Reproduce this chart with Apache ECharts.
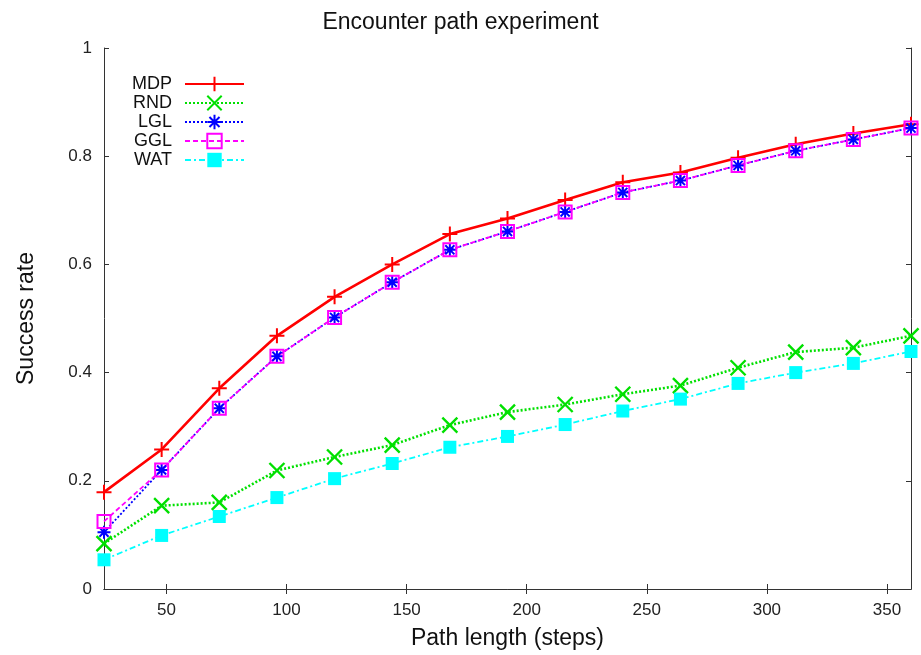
<!DOCTYPE html>
<html>
<head>
<meta charset="utf-8">
<script src="https://cdn.jsdelivr.net/npm/echarts@6/dist/echarts.min.js"></script>
<style>
html,body{margin:0;padding:0;background:#fff;}
#chart{width:921px;height:655px;}
</style>
</head>
<body>
<div id="chart"></div>
<script>
const pathLength = [24, 48, 72, 96, 120, 144, 168, 192, 216, 240, 264, 288, 312, 336, 360];
const MDP = [0.179, 0.258, 0.371, 0.468, 0.540, 0.600, 0.656, 0.685, 0.719, 0.752, 0.770, 0.797, 0.822, 0.842, 0.859];
const RND = [0.084, 0.154, 0.160, 0.219, 0.244, 0.266, 0.303, 0.327, 0.341, 0.360, 0.376, 0.409, 0.438, 0.446, 0.468];
const LGL = [0.105, 0.220, 0.334, 0.430, 0.502, 0.567, 0.627, 0.661, 0.697, 0.733, 0.755, 0.783, 0.810, 0.831, 0.852];
const GGL = [0.125, 0.220, 0.334, 0.430, 0.502, 0.567, 0.627, 0.661, 0.697, 0.733, 0.755, 0.783, 0.810, 0.831, 0.852];
const WAT = [0.054, 0.099, 0.134, 0.169, 0.204, 0.232, 0.262, 0.282, 0.304, 0.329, 0.351, 0.380, 0.400, 0.417, 0.439];
const xTicks = [50, 100, 150, 200, 250, 300, 350];

const pts = arr => arr.map((v, i) => [pathLength[i], v]);
const FONT = 'Liberation Sans';

const PLUS = 'path://M0,5L10,5M5,0L5,10';
const CROSS = 'path://M0,0L10,10M10,0L0,10';
const STAR = 'path://M0,5L10,5M5,0L5,10M1.5,1.5L8.5,8.5M8.5,1.5L1.5,8.5';

function mk(name, data, color, lineType, lineWidth, symbol, symbolSize, itemStyle) {
  return {
    name, type: 'line', data: pts(data),
    xAxisIndex: 0, yAxisIndex: 0,
    symbol, symbolSize, symbolKeepAspect: true,
    lineStyle: {color, width: lineWidth, type: lineType},
    itemStyle,
    color,
    animation: false
  };
}

const chart = echarts.init(document.getElementById('chart'), null, {renderer: 'canvas'});
const axisLine = {show: true, lineStyle: {color: '#333', width: 1}};
chart.setOption({
  backgroundColor: '#fff',
  animation: false,
  title: {
    text: 'Encounter path experiment',
    left: 'center', top: 6,
    textStyle: {fontFamily: FONT, fontSize: 23, fontWeight: 'normal', color: '#111'}
  },
  legend: {
    orient: 'vertical', left: 127, top: 70,
    align: 'right', itemWidth: 59, itemHeight: 18, itemGap: 1,
    textStyle: {fontFamily: FONT, fontSize: 18, lineHeight: 18, color: '#111', padding: [0, 8, 0, 0]},
    data: ['MDP', 'RND', 'LGL', 'GGL', 'WAT']
  },
  grid: {left: 104, right: 10, top: 48, bottom: 61, containLabel: false},
  xAxis: [{
    type: 'value', min: 24, max: 360,
    name: 'Path length (steps)', nameLocation: 'middle', nameGap: 38,
    nameTextStyle: {fontFamily: FONT, fontSize: 23, color: '#111'},
    axisLine,
    axisTick: {show: true, inside: true, length: 5, customValues: xTicks, lineStyle: {color: '#333'}},
    axisLabel: {customValues: xTicks, fontFamily: FONT, fontSize: 17, color: '#222', margin: 13},
    splitLine: {show: false}
  }, {
    type: 'value', min: 24, max: 360, position: 'top',
    axisLine,
    axisTick: {show: true, inside: true, length: 5, customValues: xTicks, lineStyle: {color: '#333'}},
    axisLabel: {show: false, customValues: xTicks},
    splitLine: {show: false}
  }],
  yAxis: [{
    type: 'value', min: 0, max: 1, interval: 0.2,
    name: 'Success rate', nameLocation: 'middle', nameGap: 66,
    nameTextStyle: {fontFamily: FONT, fontSize: 23, color: '#111'},
    axisLine,
    axisTick: {show: true, inside: true, length: 5, lineStyle: {color: '#333'}},
    axisLabel: {fontFamily: FONT, fontSize: 17, color: '#222', margin: 12},
    splitLine: {show: false}
  }, {
    type: 'value', min: 0, max: 1, interval: 0.2, position: 'right',
    axisLine,
    axisTick: {show: true, inside: true, length: 5, lineStyle: {color: '#333'}},
    axisLabel: {show: false},
    splitLine: {show: false}
  }],
  series: [
    mk('MDP', MDP, '#ff0000', 'solid', 2.6, PLUS, 15, {color: '#ff0000', borderColor: '#ff0000', borderWidth: 2}),
    mk('RND', RND, '#00e000', [2, 2], 2.6, CROSS, 15, {color: '#00e000', borderColor: '#00e000', borderWidth: 2.4}),
    mk('LGL', LGL, '#0000ff', [2, 2], 1.8, STAR, 13, {color: '#0000ff', borderColor: '#0000ff', borderWidth: 2}),
    mk('GGL', GGL, '#ff00ff', [5, 3], 1.8, 'rect', 13, {color: 'rgba(0,0,0,0)', borderColor: '#ff00ff', borderWidth: 2}),
    mk('WAT', WAT, '#00ffff', [6, 3, 2, 3], 1.8, 'rect', 13, {color: '#00ffff', borderColor: '#00ffff', borderWidth: 0})
  ]
});
</script>
</body>
</html>
